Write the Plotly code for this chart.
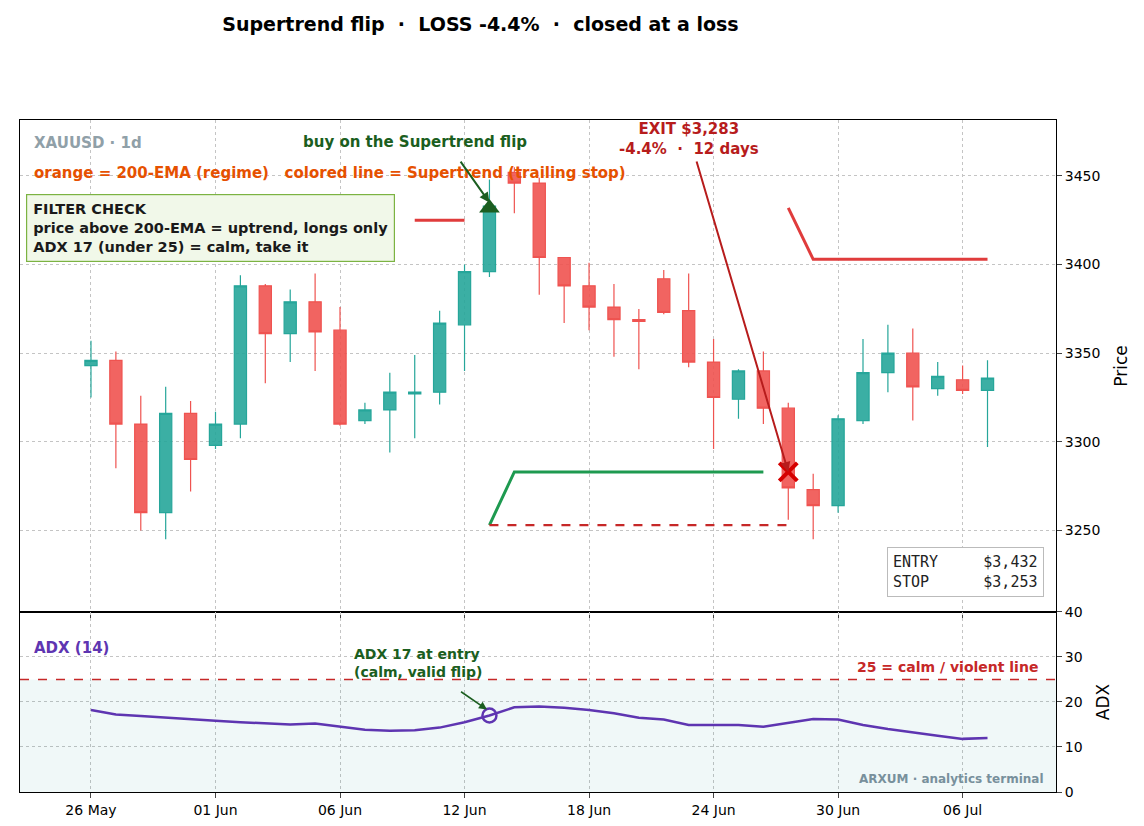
import plotly.graph_objects as go
from plotly.subplots import make_subplots

# daily candles, index based x axis
opens = [3343, 3346, 3310, 3260, 3316, 3298, 3310, 3388, 3361, 3379, 3363, 3312, 3318, 3327, 3328, 3366, 3396,
         3452, 3446, 3404, 3388, 3376, 3369, 3392, 3374, 3345, 3324, 3340, 3319, 3273, 3264, 3312, 3339, 3350,
         3330, 3335, 3329]
closes = [3346, 3310, 3260, 3316, 3290, 3310, 3388, 3361, 3379, 3362, 3310, 3318, 3328, 3328, 3367, 3396, 3433,
          3446, 3404, 3388, 3376, 3369, 3368, 3373, 3345, 3325, 3340, 3319, 3274, 3264, 3313, 3339, 3350, 3331,
          3337, 3329, 3336]
highs = [3357, 3351, 3326, 3331, 3323, 3317, 3394, 3389, 3386, 3395, 3376, 3322, 3339, 3349, 3374, 3400, 3448,
         3455, 3449, 3404, 3401, 3389, 3375, 3397, 3395, 3358, 3341, 3351, 3322, 3282, 3315, 3358, 3366, 3364,
         3345, 3343, 3346]
lows = [3325, 3285, 3250, 3245, 3272, 3296, 3302, 3333, 3345, 3340, 3309, 3310, 3294, 3302, 3321, 3340, 3393,
        3429, 3383, 3367, 3363, 3348, 3341, 3372, 3342, 3296, 3313, 3310, 3256, 3245, 3260, 3310, 3328, 3312,
        3326, 3327, 3297]
adx = [18.2, 17.2, 16.9, 16.5, 16.1, 15.8, 15.5, 15.3, 15.0, 15.2, 14.5, 13.8, 13.6, 13.7, 14.3, 15.5, 17.0,
       18.8, 19.0, 18.7, 18.2, 17.5, 16.5, 16.1, 14.9, 14.9, 14.9, 14.5, 15.3, 16.2, 16.1, 14.9, 14.0, 13.2,
       12.5, 11.8, 12.0]
tick_idx = [0, 5, 10, 15, 20, 25, 30, 35]
tick_text = ["26 May", "01 Jun", "06 Jun", "12 Jun", "18 Jun", "24 Jun", "30 Jun", "06 Jul"]

st_up_x = [16, 17, 18, 19, 20, 21, 22, 23, 24, 25, 26, 27]
st_up_y = [3253, 3283, 3283, 3283, 3283, 3283, 3283, 3283, 3283, 3283, 3283, 3283]
st_dn_x = [13, 14, 15]
st_dn_y = [3425, 3425, 3425]
st_dn2_x = [28, 29, 30, 31, 32, 33, 34, 35, 36]
st_dn2_y = [3432, 3403, 3403, 3403, 3403, 3403, 3403, 3403, 3403]
stop_x = [16, 28]
stop_y = [3253, 3253]
entry_i, entry_p = 16, 3432
exit_i, exit_p = 28, 3283

x = list(range(len(opens)))
fig = make_subplots(rows=2, cols=1, shared_xaxes=True, vertical_spacing=0.0, row_heights=[0.732, 0.268])

fig.add_trace(go.Candlestick(x=x, open=opens, high=highs, low=lows, close=closes,
                             increasing=dict(line=dict(color="#26a69a", width=1.2), fillcolor="rgba(38,166,154,0.9)"),
                             decreasing=dict(line=dict(color="#ef5350", width=1.2), fillcolor="rgba(239,83,80,0.9)"),
                             whiskerwidth=0, showlegend=False), row=1, col=1)
fig.add_trace(go.Scatter(x=st_up_x, y=st_up_y, mode="lines", line=dict(color="#1e9a50", width=3),
                         showlegend=False), row=1, col=1)
fig.add_trace(go.Scatter(x=st_dn_x, y=st_dn_y, mode="lines", line=dict(color="#e03c3c", width=3),
                         showlegend=False), row=1, col=1)
fig.add_trace(go.Scatter(x=st_dn2_x, y=st_dn2_y, mode="lines", line=dict(color="#e03c3c", width=3),
                         showlegend=False), row=1, col=1)
fig.add_trace(go.Scatter(x=stop_x, y=stop_y, mode="lines", line=dict(color="#c62828", width=2.2, dash="dash"),
                         showlegend=False), row=1, col=1)
fig.add_trace(go.Scatter(x=[entry_i], y=[entry_p], mode="markers",
                         marker=dict(symbol="triangle-up", size=18, color="#1b5e20"), showlegend=False), row=1, col=1)
fig.add_trace(go.Scatter(x=[exit_i], y=[exit_p], mode="markers",
                         marker=dict(symbol="x-thin", size=18, line=dict(color="#d50000", width=4)),
                         showlegend=False), row=1, col=1)

# ADX pane
fig.add_trace(go.Scatter(x=[-3, 39, 39, -3], y=[0, 0, 25, 25], fill="toself", mode="none",
                         fillcolor="rgba(0,128,128,0.06)", showlegend=False, hoverinfo="skip"), row=2, col=1)
fig.add_trace(go.Scatter(x=x, y=adx, mode="lines", line=dict(color="#5e35b1", width=2.5),
                         showlegend=False), row=2, col=1)
fig.add_trace(go.Scatter(x=[entry_i], y=[adx[entry_i]], mode="markers",
                         marker=dict(symbol="circle-open", size=14, color="#5e35b1",
                                     line=dict(color="#5e35b1", width=2.5)),
                         showlegend=False), row=2, col=1)
fig.add_hline(y=25, line=dict(color="#c62828", width=1.5, dash="dash"), row=2, col=1)

ax = dict(showline=True, linecolor="black", mirror=True, showgrid=True, gridcolor="#c4c4c4",
          griddash="dot", ticks="outside", zeroline=False, automargin=False)
fig.update_xaxes(**ax, range=[-2.85, 38.75], tickvals=tick_idx, ticktext=tick_text, rangeslider_visible=False)
fig.update_xaxes(showticklabels=False, row=1, col=1)
fig.update_yaxes(**ax, side="right")
fig.update_yaxes(range=[3204, 3481.6], dtick=50, title_text="Price", row=1, col=1)
fig.update_yaxes(range=[0, 40], dtick=10, title_text="ADX", row=2, col=1)

ann = [
    dict(x=0.012, y=0.975, xref="x domain", yref="y domain", text="<b>XAUUSD · 1d</b>", showarrow=False,
         xanchor="left", font=dict(size=15, color="#90a0a8")),
    dict(x=0.012, y=0.915, xref="x domain", yref="y domain",
         text="<b>orange = 200-EMA (regime)   colored line = Supertrend (trailing stop)</b>", showarrow=False,
         xanchor="left", font=dict(size=15, color="#e65100")),
    dict(x=0.006, y=0.85, xref="x domain", yref="y domain", yanchor="top", xanchor="left", align="left",
         text="<b>FILTER CHECK<br>price above 200-EMA = uptrend, longs only<br>ADX 17 (under 25) = calm, take it</b>",
         showarrow=False, bgcolor="#f1f8e9", bordercolor="#7cb342", borderwidth=1.2, borderpad=6,
         font=dict(size=14.5, color="#1a1a1a")),
    # buy label + arrow
    dict(x=13.0, y=3463, xref="x", yref="y", text="<b>buy on the Supertrend flip</b>", showarrow=False,
         xanchor="center", yanchor="bottom", font=dict(size=15, color="#1b5e20")),
    dict(x=entry_i, y=entry_p + 3, xref="x", yref="y", text="", ax=14.8, ay=3459, axref="x", ayref="y",
         showarrow=True, arrowhead=2, arrowwidth=2, arrowcolor="#1b5e20"),
    # exit label + arrow
    dict(x=24.0, y=3471, xref="x", yref="y", text="<b>EXIT $3,283<br>-4.4%  ·  12 days</b>", showarrow=False,
         xanchor="center", yanchor="middle", font=dict(size=15, color="#b71c1c")),
    dict(x=exit_i, y=exit_p, xref="x", yref="y", text="", ax=24.3, ay=3459, axref="x", ayref="y",
         showarrow=True, arrowhead=2, arrowwidth=2, arrowcolor="#b71c1c"),
    dict(x=0.988, y=0.03, xref="x domain", yref="y domain", xanchor="right", yanchor="bottom", align="left",
         text="ENTRY     $3,432<br>STOP      $3,253", showarrow=False, bgcolor="white", bordercolor="#bbbbbb",
         borderwidth=1, borderpad=5, font=dict(family="DejaVu Sans Mono", size=15, color="#222")),
    dict(x=0.012, y=0.86, xref="x2 domain", yref="y2 domain", text="<b>ADX (14)</b>", showarrow=False,
         xanchor="left", font=dict(size=15, color="#5e35b1")),
    dict(x=0.985, y=25.5, xref="x2 domain", yref="y2", text="<b>25 = calm / violent line</b>", showarrow=False,
         xanchor="right", yanchor="bottom", font=dict(size=14, color="#c62828")),
    dict(x=10.5, y=24.5, xref="x2", yref="y2", text="<b>ADX 17 at entry<br>(calm, valid flip)</b>",
         showarrow=False, xanchor="left", yanchor="bottom", align="left", font=dict(size=14, color="#1b5e20")),
    dict(x=entry_i - 0.1, y=adx[entry_i] + 1.3, xref="x2", yref="y2", text="", ax=14.8, ay=22.5,
         axref="x2", ayref="y2", showarrow=True, arrowhead=2, arrowwidth=1.6, arrowcolor="#1b5e20"),
    dict(x=0.99, y=0.02, xref="x2 domain", yref="y2 domain", text="<b>ARXUM · analytics terminal</b>",
         showarrow=False, xanchor="right", yanchor="bottom", font=dict(size=12, color="#78909c")),
]
fig.update_layout(
    width=1144, height=826, margin=dict(l=12, r=96, t=112, b=42),
    paper_bgcolor="white", plot_bgcolor="white", font=dict(family="DejaVu Sans", size=14, color="black"),
    title=dict(text="<b>Supertrend flip  ·  LOSS -4.4%  ·  closed at a loss</b>", x=0.413, xanchor="center",
               y=0.988, yanchor="top", font=dict(size=19)),
    annotations=ann, showlegend=False,
)
fig.write_html("out.html")
